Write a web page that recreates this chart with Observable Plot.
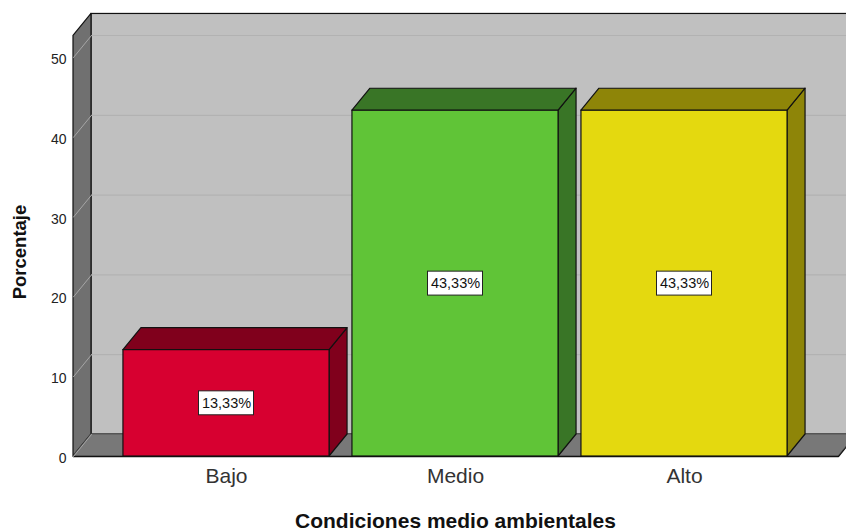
<!DOCTYPE html>
<html>
<head>
<meta charset="utf-8">
<script src="https://cdn.jsdelivr.net/npm/d3@7"></script>
<script src="https://cdn.jsdelivr.net/npm/@observablehq/plot@0.6"></script>
<style>
html,body{margin:0;padding:0;background:#fff;overflow:hidden}
svg{display:block}
</style>
</head>
<body>
<div id="chart"></div>
<script>
const categories = ["Bajo", "Medio", "Alto"];
const percentages = [13.33, 43.33, 43.33];
const percentLabels = ["13,33%", "43,33%", "43,33%"];
const yTicks = [0, 10, 20, 30, 40, 50];
const xTitle = "Condiciones medio ambientales";
const yTitle = "Porcentaje";

const frontColors = ["#d70030", "#60c437", "#e4d90f"];
const depthColors = ["#80001c", "#397526", "#8e8508"];

const positions = categories.map((_, i) => i);
const halfBar = 0.45;
const depthX = 18 / 229;
const depthY = 22 / 7.98;
const wallLeft = -153 / 229;
const wallRight = 612 / 229;
const wallTop = 52.7;

const sides = positions.flatMap(i => [
  {i, x: i + halfBar, y1: 0, y2: percentages[i]},
  {i, x: i + halfBar + depthX, y1: depthY, y2: percentages[i] + depthY}
]);
const tops = positions.flatMap(i => [
  {i, y: percentages[i], x1: i - halfBar, x2: i + halfBar},
  {i, y: percentages[i] + depthY, x1: i - halfBar + depthX, x2: i + halfBar + depthX}
]);
const leftWall = [
  {x: wallLeft, y1: 0, y2: wallTop},
  {x: wallLeft + depthX, y1: depthY, y2: wallTop + depthY}
];
const floor = [
  {y: 0, x1: wallLeft, x2: wallRight},
  {y: depthY, x1: wallLeft + depthX, x2: wallRight + depthX}
];
const gridSide = yTicks.slice(1).flatMap(v => [
  {v, x: wallLeft, y: v},
  {v, x: wallLeft + depthX, y: v + depthY}
]);
const gridBack = yTicks.slice(1).flatMap(v => [
  {v, x: wallLeft + depthX, y: v + depthY},
  {v, x: wallRight + depthX, y: v + depthY}
]);

const chart = Plot.plot({
  width: 846,
  height: 531,
  marginLeft: 73,
  marginRight: 0,
  marginTop: 0,
  marginBottom: 75,
  x: {domain: [wallLeft, (846 - 226) / 229]},
  y: {domain: [0, 456 / 7.98]},
  style: {fontFamily: "Liberation Sans, Arial, sans-serif", background: "#fff", overflow: "hidden"},
  marks: [
    Plot.rect([0], {x1: wallLeft + depthX, x2: wallRight + depthX, y1: depthY, y2: wallTop + depthY, fill: "#c0c0c0", stroke: "#111", strokeWidth: 1.2}),
    Plot.areaY(leftWall, {x: "x", y1: "y1", y2: "y2", fill: "#707070", stroke: "#111", strokeWidth: 1.2}),
    Plot.line(gridBack, {x: "x", y: "y", z: "v", stroke: "#b2b2b2", strokeWidth: 1.2}),
    Plot.line(gridSide, {x: "x", y: "y", z: "v", stroke: "#a6a6a6", strokeWidth: 1}),
    Plot.areaX(floor, {y: "y", x1: "x1", x2: "x2", fill: "#787878", stroke: "#555", strokeWidth: 1}),
    Plot.ruleY([0], {x1: wallLeft, x2: wallRight, stroke: "#111", strokeWidth: 1.4}),
    Plot.line([{x: wallRight, y: 0}, {x: wallRight + depthX, y: depthY}], {x: "x", y: "y", stroke: "#111", strokeWidth: 1.2}),
    Plot.line([{x: wallLeft, y: 0}, {x: wallLeft + depthX, y: depthY}], {x: "x", y: "y", stroke: "#a6a6a6", strokeWidth: 1}),
    Plot.areaY(sides, {x: "x", y1: "y1", y2: "y2", z: "i", fill: d => depthColors[d.i], stroke: "#111", strokeWidth: 1.2}),
    Plot.areaX(tops, {y: "y", x1: "x1", x2: "x2", z: "i", fill: d => depthColors[d.i], stroke: "#111", strokeWidth: 1.2}),
    Plot.rect(positions, {
      x1: i => i - halfBar, x2: i => i + halfBar, y1: 0, y2: i => percentages[i],
      fill: i => frontColors[i], stroke: "#111", strokeWidth: 1.2
    }),
    Plot.rect(positions, {
      x1: i => i - 27.5 / 229, x2: i => i + 27.5 / 229,
      y1: i => percentages[i] / 2 - 1.5, y2: i => percentages[i] / 2 + 1.5,
      fill: "#fff", stroke: "#222", strokeWidth: 1
    }),
    Plot.text(positions, {
      x: i => i, y: i => percentages[i] / 2, text: i => percentLabels[i],
      fontSize: 14.5, fill: "#111"
    }),
    Plot.axisY(yTicks, {tickSize: 0, tickPadding: 7, fontSize: 14, label: null, color: "#222", dy: 2}),
    Plot.axisX(positions, {tickSize: 0, tickPadding: 9, fontSize: 21, label: null, tickFormat: i => categories[i], color: "#333", dy: 3}),
    Plot.text([xTitle], {x: 1, y: -8.1, fontSize: 21, fontWeight: "bold", fill: "#111"}),
    Plot.text([yTitle], {x: (20 - 226) / 229, y: 204.5 / 7.98, rotate: -90, fontSize: 18.5, fontWeight: "bold", fill: "#111"})
  ]
});
document.getElementById("chart").appendChild(chart);
</script>
</body>
</html>
